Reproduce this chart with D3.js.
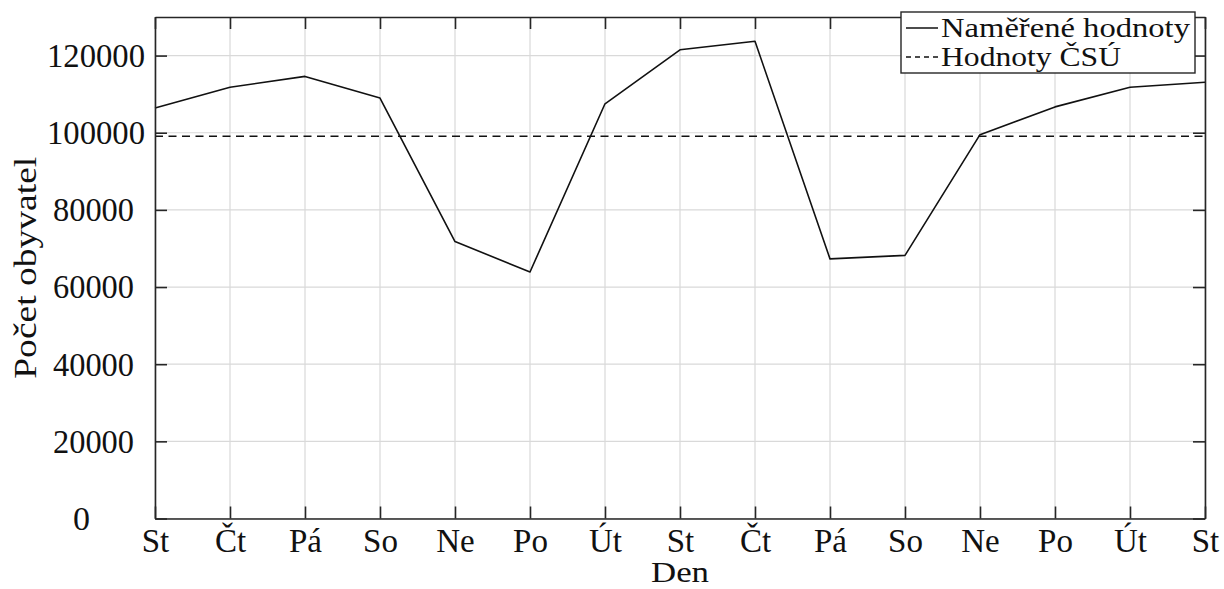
<!DOCTYPE html>
<html>
<head>
<meta charset="utf-8">
<script src="https://cdn.jsdelivr.net/npm/d3@7"></script>
<style>
  html, body { margin: 0; padding: 0; background: #fff; }
  svg text { font-family: "Liberation Serif", "DejaVu Serif", serif; fill: #111; }
</style>
</head>
<body>
<svg id="chart" width="1224" height="589"></svg>
<script>
const dayLabels = ["St", "Čt", "Pá", "So", "Ne", "Po", "Út", "St", "Čt", "Pá", "So", "Ne", "Po", "Út", "St"];
const measured = [106400, 111800, 114600, 109000, 71800, 63900, 107500, 121500, 123700, 67300, 68200, 99500, 106700, 111800, 113100];
const csuValue = 99100;
const yTicks = [0, 20000, 40000, 60000, 80000, 100000, 120000];
const seriesNames = ["Naměřené hodnoty", "Hodnoty ČSÚ"];
const xTitle = "Den";
const yTitle = "Počet obyvatel";

const svg = d3.select("#chart");
const m = { left: 155, right: 1224 - 1205, top: 17, bottom: 589 - 518.5 };
const W = 1224 - m.left - m.right, H = 589 - m.top - m.bottom;
const g = svg.append("g").attr("transform", `translate(${m.left},${m.top})`);

const x = d3.scaleLinear().domain([0, dayLabels.length - 1]).range([0, W]);
const y = d3.scaleLinear().domain([0, 130000]).range([H, 0]);
const idx = d3.range(dayLabels.length);

// grid
g.append("g").selectAll("line").data(idx).join("line")
  .attr("x1", d => x(d)).attr("x2", d => x(d)).attr("y1", 0).attr("y2", H)
  .attr("stroke", "#d9d9d9").attr("stroke-width", 1.2);
g.append("g").selectAll("line").data(yTicks).join("line")
  .attr("x1", 0).attr("x2", W).attr("y1", d => y(d)).attr("y2", d => y(d))
  .attr("stroke", "#d9d9d9").attr("stroke-width", 1.2);

// CSU dashed line
g.append("line")
  .attr("x1", 0).attr("x2", W).attr("y1", y(csuValue)).attr("y2", y(csuValue))
  .attr("stroke", "#111").attr("stroke-width", 1.4).attr("stroke-dasharray", "8,5.5");

// measured line
g.append("path").datum(measured)
  .attr("fill", "none").attr("stroke", "#111").attr("stroke-width", 1.6)
  .attr("stroke-linejoin", "round")
  .attr("d", d3.line().x((d, i) => x(i)).y(d => y(d)));

// axes (inner ticks)
const tl = 12;
const axStyle = sel => {
  sel.select(".domain").attr("stroke", "#262626").attr("stroke-width", 1.6);
  sel.selectAll(".tick line").attr("stroke", "#262626").attr("stroke-width", 1.6);
  sel.selectAll("text").style("font-size", "32px").style("font-family", '"Liberation Serif", serif').attr("fill", "#111");
};
const xAxis = g.append("g").attr("transform", `translate(0,${H})`)
  .call(d3.axisBottom(x).tickValues(idx).tickFormat(i => dayLabels[i]).tickSizeInner(-tl).tickSizeOuter(0).tickPadding(7))
  .call(axStyle);
xAxis.selectAll("text").attr("dy", "0.8em").style("font-size", "33px");
g.append("g")
  .call(d3.axisTop(x).tickValues(idx).tickFormat("").tickSizeInner(-tl).tickSizeOuter(0))
  .call(axStyle);
const yAxis = g.append("g")
  .call(d3.axisLeft(y).tickValues(yTicks).tickFormat(d3.format("d")).tickSizeInner(-tl).tickSizeOuter(0).tickPadding(10))
  .call(axStyle);
// label placement as in the reference (pgfplots-like)
yAxis.selectAll("text").style("font-size", "34px").attr("lengthAdjust", "spacingAndGlyphs")
  .each(function (d) {
    const s = String(d).length;
    const t = d3.select(this);
    if (s >= 6) t.attr("x", -10).attr("textLength", 98);
    else if (s === 5) t.attr("x", -21).attr("textLength", 81);
    else t.attr("x", -65).attr("textLength", 17);
  });
g.append("g").attr("transform", `translate(${W},0)`)
  .call(d3.axisRight(y).tickValues(yTicks).tickFormat("").tickSizeInner(-tl).tickSizeOuter(0))
  .call(axStyle);

// axis titles
svg.append("text").attr("x", m.left + W / 2).attr("y", 582)
  .attr("text-anchor", "middle").style("font-size", "30px")
  .attr("textLength", 58).attr("lengthAdjust", "spacingAndGlyphs").text(xTitle);
svg.append("text").attr("transform", `translate(36,${m.top + H / 2}) rotate(-90)`)
  .attr("text-anchor", "middle").style("font-size", "32px")
  .attr("textLength", 222).attr("lengthAdjust", "spacingAndGlyphs").text(yTitle);

// legend
const lg = svg.append("g").attr("transform", "translate(901,12)");
lg.append("rect").attr("width", 294).attr("height", 61)
  .attr("fill", "#fff").attr("stroke", "#262626").attr("stroke-width", 1.4);
const rows = [{ name: seriesNames[0], dash: null, w: 249 }, { name: seriesNames[1], dash: "5,4", w: 180 }];
rows.forEach((r, i) => {
  const cy = 16 + i * 29;
  lg.append("line").attr("x1", 5).attr("x2", 37).attr("y1", cy).attr("y2", cy)
    .attr("stroke", "#111").attr("stroke-width", 1.5).attr("stroke-dasharray", r.dash);
  lg.append("text").attr("x", 40).attr("y", cy + 9).style("font-size", "28px")
    .attr("textLength", r.w).attr("lengthAdjust", "spacingAndGlyphs").text(r.name);
});
</script>
</body>
</html>
